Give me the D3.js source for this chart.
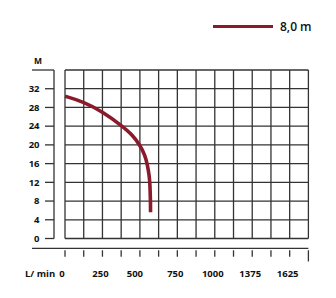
<!DOCTYPE html>
<html><head><meta charset="utf-8">
<script src="https://cdn.jsdelivr.net/npm/d3@7"></script>
<style>
html,body{margin:0;padding:0;background:#fff;}
svg{display:block;font-family:"Open Sans",sans-serif;}
</style></head>
<body><svg id="c" width="336" height="298"></svg>
<script>
// data
const flow = [0, 126, 252, 379, 445, 501, 534, 550, 562, 567, 571, 571];   // L/min
const head = [30.4, 29.2, 27.05, 24.1, 22.3, 19.95, 17.8, 15.8, 13.5, 11.8, 7.8, 5.6];  // m
const seriesName = "8,0 m";
const yTicks = [0, 4, 8, 12, 16, 20, 24, 28, 32];
const xTickLabels = ["0", "250", "500", "750", "1000", "1375", "1625"];
const xLabelAt = [0, 250, 480, 750, 1000, 1250, 1500];
const xGridStep = 125;

const svg = d3.select("#c");
const axisCol = "#333";
const curveCol = "#8b1a2c";

const x = d3.scaleLinear().domain([0, 1625]).range([65, 308.4]);
const y = d3.scaleLinear().domain([0, 36]).range([238.5, 70]);

// grid
const g = svg.append("g").attr("stroke", axisCol).attr("stroke-width", 1.3).attr("fill", "none");
const xs = d3.range(0, 1625 + 1, xGridStep);
g.selectAll(".v").data(xs).join("line")
  .attr("x1", d => x(d)).attr("x2", d => x(d)).attr("y1", y(36)).attr("y2", y(0));
const ys = d3.range(0, 37, 4);
g.selectAll(".h").data(ys).join("line")
  .attr("x1", x(0)).attr("x2", x(1625)).attr("y1", d => y(d)).attr("y2", d => y(d));

// y axis (separate)
const yAxisX = 54;
const ya = svg.append("g").attr("stroke", axisCol).attr("stroke-width", 1.3);
ya.append("line").attr("x1", yAxisX).attr("x2", yAxisX).attr("y1", y(36)).attr("y2", y(0));
ya.append("line").attr("x1", 32).attr("x2", yAxisX).attr("y1", y(36)).attr("y2", y(36));
ya.selectAll(".t").data(yTicks).join("line")
  .attr("x1", 45).attr("x2", yAxisX).attr("y1", d => y(d)).attr("y2", d => y(d));
svg.append("g").selectAll("text").data(yTicks).join("text")
  .attr("x", 39.5).attr("y", d => y(d)).attr("dy", "0.35em")
  .attr("text-anchor", "end").attr("font-size", 9.5).attr("font-weight", 700).attr("fill", "#111")
  .text(d => d);
svg.append("text").attr("x", 38).attr("y", 63.5).attr("text-anchor", "middle")
  .attr("font-size", 8.5).attr("font-weight", 700).attr("fill", "#111").text("M");

// x axis (separate)
const xAxisY = 248.3;
const xa = svg.append("g").attr("stroke", axisCol).attr("stroke-width", 1.3);
xa.append("line").attr("x1", 32).attr("x2", x(1625)).attr("y1", xAxisY).attr("y2", xAxisY);
xa.selectAll(".t").data(xs).join("line")
  .attr("x1", d => x(d)).attr("x2", d => x(d))
  .attr("y1", xAxisY + 2).attr("y2", (d, i) => i === xs.length - 1 ? 261.5 : 256.7);
svg.append("g").selectAll("text").data(xTickLabels).join("text")
  .attr("x", (d, i) => x(xLabelAt[i]) - (i === 0 ? 3 : 2)).attr("y", 276.7)
  .attr("text-anchor", "middle").attr("font-size", 9.5).attr("font-weight", 700).attr("fill", "#111")
  .text(d => d);
svg.append("text").attr("x", 25).attr("y", 276.7).attr("font-size", 9.5).attr("font-weight", 700)
  .attr("fill", "#111").text("L/ min");

// curve
const pts = flow.map((f, i) => [x(f), y(head[i])]);
svg.append("path").datum(pts)
  .attr("d", d3.line().curve(d3.curveBasis))
  .attr("fill", "none").attr("stroke", curveCol).attr("stroke-width", 3.6).attr("stroke-linecap", "butt");

// legend
svg.append("line").attr("x1", 213).attr("x2", 273).attr("y1", 26.5).attr("y2", 26.5)
  .attr("stroke", curveCol).attr("stroke-width", 3.2);
svg.append("text").attr("x", 280).attr("y", 31).attr("font-size", 12).attr("font-weight", 600)
  .attr("fill", "#111").text(seriesName);
</script></body></html>
